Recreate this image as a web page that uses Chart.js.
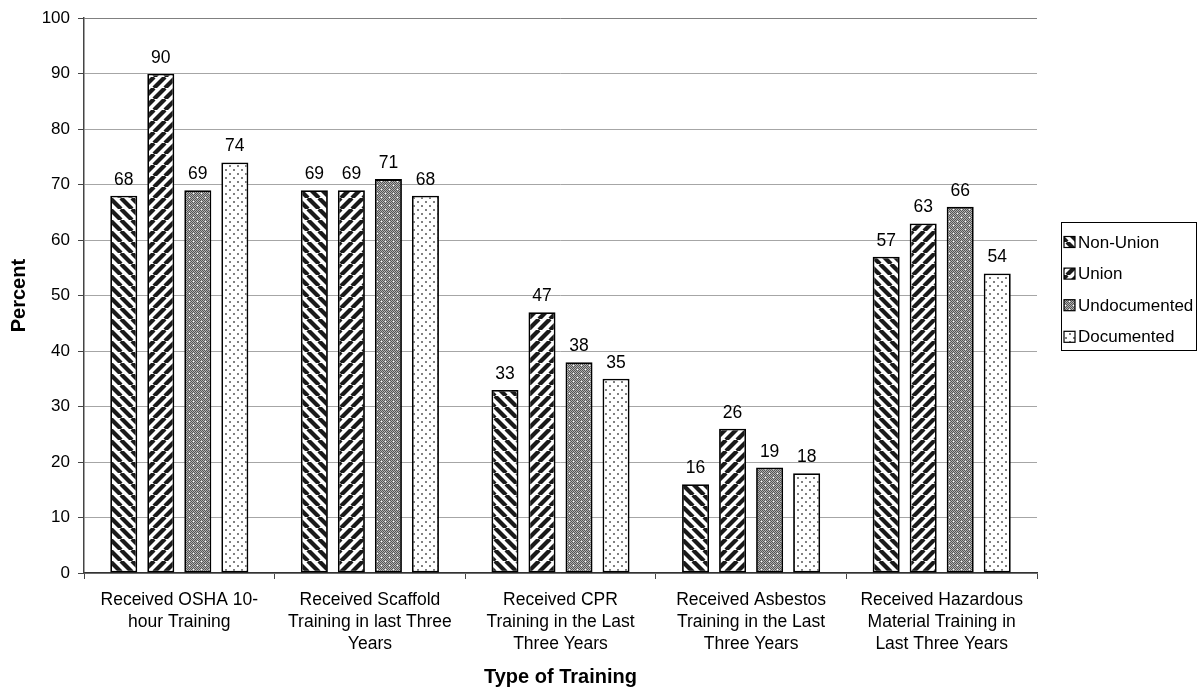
<!DOCTYPE html>
<html>
<head>
<meta charset="utf-8">
<script src="https://cdn.jsdelivr.net/npm/chart.js@4/dist/chart.umd.min.js"></script>
<style>
  html, body { margin: 0; padding: 0; background: #fff; }
  canvas { display: block; }
</style>
</head>
<body>
<canvas id="c" width="1200" height="689"></canvas>
<script>
// Training categories (multi-line axis labels)
const categories = [
  ["Received OSHA 10-", "hour Training"],
  ["Received Scaffold", "Training in last Three", "Years"],
  ["Received CPR", "Training in the Last", "Three Years"],
  ["Received Asbestos", "Training in the Last", "Three Years"],
  ["Received Hazardous", "Material Training in", "Last Three Years"]
];
const seriesNames = ["Non-Union", "Union", "Undocumented", "Documented"];
const nonUnion     = [68, 69, 33, 16, 57];
const union        = [90, 69, 47, 26, 63];
const undocumented = [69, 71, 38, 19, 66];
const documented   = [74, 68, 35, 18, 54];
const yMin = 0, yMax = 100, yStep = 10;

const FONT = '"Liberation Sans", Arial, Helvetica, sans-serif';
const canvas = document.getElementById('c');
const mainCtx = canvas.getContext('2d');

// Build a repeating fill pattern from a small tile
function tile(size, draw) {
  const t = document.createElement('canvas');
  t.width = size; t.height = size;
  const g = t.getContext('2d');
  g.fillStyle = '#fff';
  g.fillRect(0, 0, size, size);
  draw(g, size);
  return mainCtx.createPattern(t, 'repeat');
}

// Diagonal stripes: dir = -1 for "\" and +1 for "/"
function stripes(dir) {
  return tile(11, (g, s) => {
    g.strokeStyle = '#1a1a1a';
    g.lineWidth = 4.2;
    for (let k = -1; k <= 1; k++) {
      g.beginPath();
      if (dir > 0) { g.moveTo(k * s, s); g.lineTo(k * s + s, 0); }
      else { g.moveTo(k * s, 0); g.lineTo(k * s + s, s); }
      g.stroke();
    }
  });
}

// Dense grey checker with sparse white specks
function greyChecker() {
  return tile(8, (g, s) => {
    for (let y = 0; y < s; y++) {
      for (let x = 0; x < s; x++) {
        g.fillStyle = ((x + y) % 2 === 0) ? '#555' : '#b0b0b0';
        g.fillRect(x, y, 1, 1);
      }
    }
    g.fillStyle = '#fff';
    g.fillRect(1, 1, 1, 1);
    g.fillRect(5, 5, 1, 1);
  });
}

// White fill with small grey dots
function dots() {
  return tile(8, (g, s) => {
    g.fillStyle = '#808080';
    g.fillRect(1, 1, 2, 2);
    g.fillRect(5, 5, 2, 2);
  });
}

const fills = [stripes(-1), stripes(1), greyChecker(), dots()];
const seriesData = [nonUnion, union, undocumented, documented];

// Value labels above each bar
const valueLabels = {
  id: 'valueLabels',
  afterDatasetsDraw(chart) {
    const ctx = chart.ctx;
    ctx.save();
    ctx.font = '17.5px ' + FONT;
    ctx.fillStyle = '#000';
    ctx.textAlign = 'center';
    ctx.textBaseline = 'alphabetic';
    chart.data.datasets.forEach((ds, i) => {
      chart.getDatasetMeta(i).data.forEach((bar, j) => {
        ctx.fillText(String(ds.data[j]), bar.x, bar.y - 11);
      });
    });
    ctx.restore();
  }
};

// Boxed legend to the right of the plot
const boxLegend = {
  id: 'boxLegend',
  afterDraw(chart) {
    const ctx = chart.ctx;
    const area = chart.chartArea;
    const x = area.right + 24, y = 222, w = 135, h = 128;
    ctx.save();
    ctx.strokeStyle = '#000';
    ctx.lineWidth = 1;
    ctx.strokeRect(x + 0.5, y + 0.5, w, h);
    ctx.font = '17px ' + FONT;
    ctx.textAlign = 'left';
    ctx.textBaseline = 'middle';
    chart.data.datasets.forEach((ds, i) => {
      const cy = y + 20 + i * 31.6;
      ctx.fillStyle = ds.backgroundColor;
      ctx.fillRect(x + 3, cy - 5.5, 11, 11);
      ctx.strokeStyle = '#000';
      ctx.lineWidth = 1.2;
      ctx.strokeRect(x + 3, cy - 5.5, 11, 11);
      ctx.fillStyle = '#000';
      ctx.fillText(ds.label, x + 17, cy + 1);
    });
    ctx.restore();
  }
};

new Chart(canvas, {
  type: 'bar',
  data: {
    labels: categories,
    datasets: seriesNames.map((name, i) => ({
      label: name,
      data: seriesData[i],
      backgroundColor: fills[i],
      borderColor: '#000',
      borderWidth: 1.8,
      borderSkipped: false,
      categoryPercentage: 0.777,
      barPercentage: 0.73
    }))
  },
  options: {
    responsive: false,
    animation: false,
    layout: { padding: { top: 16, right: 163, bottom: 0, left: 0 } },
    plugins: {
      legend: { display: false },
      tooltip: { enabled: false }
    },
    scales: {
      x: {
        grid: {
          display: true,
          drawOnChartArea: false,
          drawTicks: true,
          tickLength: 6,
          tickColor: '#444',
          offset: true
        },
        border: { color: '#333', width: 1.5 },
        ticks: {
          color: '#000',
          font: { family: FONT, size: 17.5, lineHeight: 1.257 },
          padding: 10,
          maxRotation: 0,
          autoSkip: false
        },
        title: {
          display: true,
          text: 'Type of Training',
          color: '#000',
          font: { family: FONT, size: 20, weight: 'bold', lineHeight: 1.2 },
          padding: { top: 0, bottom: 0 }
        },
        afterFit(scale) { scale.height = 116; }
      },
      y: {
        min: yMin,
        max: yMax,
        ticks: {
          stepSize: yStep,
          color: '#000',
          font: { family: FONT, size: 17 },
          padding: 8
        },
        grid: {
          color: (c) => (c.tick && c.tick.value === yMax) ? '#808080' : '#a6a6a6',
          lineWidth: 1,
          tickLength: 6,
          tickColor: '#444'
        },
        border: { color: '#444', width: 1.5 },
        title: {
          display: true,
          text: 'Percent',
          color: '#000',
          font: { family: FONT, size: 20, weight: 'bold', lineHeight: 1.2 },
          padding: { top: 7, bottom: 0 }
        },
        afterFit(scale) { scale.width = 84; }
      }
    }
  },
  plugins: [valueLabels, boxLegend]
});
</script>
</body>
</html>
